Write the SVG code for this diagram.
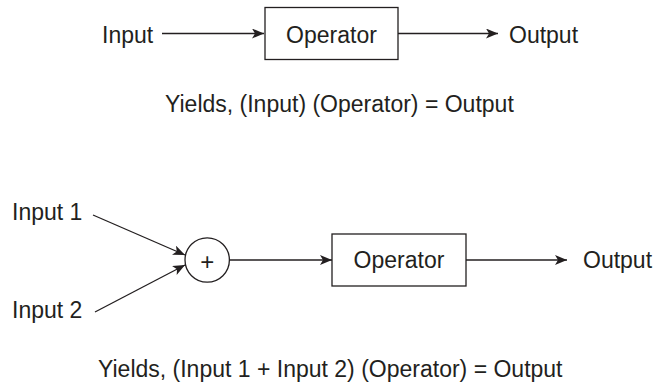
<svg xmlns="http://www.w3.org/2000/svg" width="657" height="385" viewBox="0 0 657 385">
  <style>
    .lbl { font-family: "Liberation Sans", Arial, sans-serif; font-size: 23px; fill: #231f20; }
    .mid { text-anchor: middle; }
    .shape { fill: #ffffff; stroke: #231f20; stroke-width: 1.3; }
    .wire { fill: none; stroke: #231f20; stroke-width: 1.3; }
  </style>
  <defs>
    <marker id="arrow" viewBox="0 0 12 10" refX="12" refY="5" markerWidth="12" markerHeight="10" markerUnits="userSpaceOnUse" orient="auto">
      <path d="M0,0 L12,5 L0,10 L3,5 Z" fill="#231f20"/>
    </marker>
  </defs>
  <rect width="657" height="385" fill="#ffffff"/>

  <!-- Connectors -->
  <g id="connectors">
    <line class="wire" x1="162" y1="33.5" x2="264" y2="33.5" marker-end="url(#arrow)"/>
    <line class="wire" x1="398" y1="33.5" x2="498" y2="33.5" marker-end="url(#arrow)"/>
    <line class="wire" x1="93" y1="215" x2="185" y2="255" marker-end="url(#arrow)"/>
    <line class="wire" x1="95" y1="312" x2="185" y2="265" marker-end="url(#arrow)"/>
    <line class="wire" x1="229.5" y1="260" x2="332" y2="260" marker-end="url(#arrow)"/>
    <line class="wire" x1="466" y1="260" x2="567" y2="260" marker-end="url(#arrow)"/>
  </g>

  <!-- Single-input chain -->
  <g id="input-top">
    <text class="lbl" x="102" y="43">Input</text>
  </g>
  <g id="operator-top">
    <rect class="shape" x="265" y="7.5" width="133" height="52"/>
    <text class="lbl mid" x="331.5" y="43">Operator</text>
  </g>
  <g id="output-top">
    <text class="lbl" x="509" y="43">Output</text>
  </g>
  <g id="caption-top">
    <text class="lbl" x="165" y="112">Yields, (Input) (Operator) = Output</text>
  </g>

  <!-- Two-input chain -->
  <g id="input-1">
    <text class="lbl" x="12" y="220">Input 1</text>
  </g>
  <g id="input-2">
    <text class="lbl" x="12" y="318">Input 2</text>
  </g>
  <g id="sum">
    <circle class="shape" cx="207.2" cy="260" r="22.2"/>
    <text class="lbl mid" x="207.3" y="269.5" style="font-size:24px">+</text>
  </g>
  <g id="operator-bottom">
    <rect class="shape" x="332" y="234" width="134" height="52"/>
    <text class="lbl mid" x="399" y="268">Operator</text>
  </g>
  <g id="output-bottom">
    <text class="lbl" x="583" y="268">Output</text>
  </g>
  <g id="caption-bottom">
    <text class="lbl" x="98" y="377">Yields, (Input 1 + Input 2) (Operator) = Output</text>
  </g>
</svg>
